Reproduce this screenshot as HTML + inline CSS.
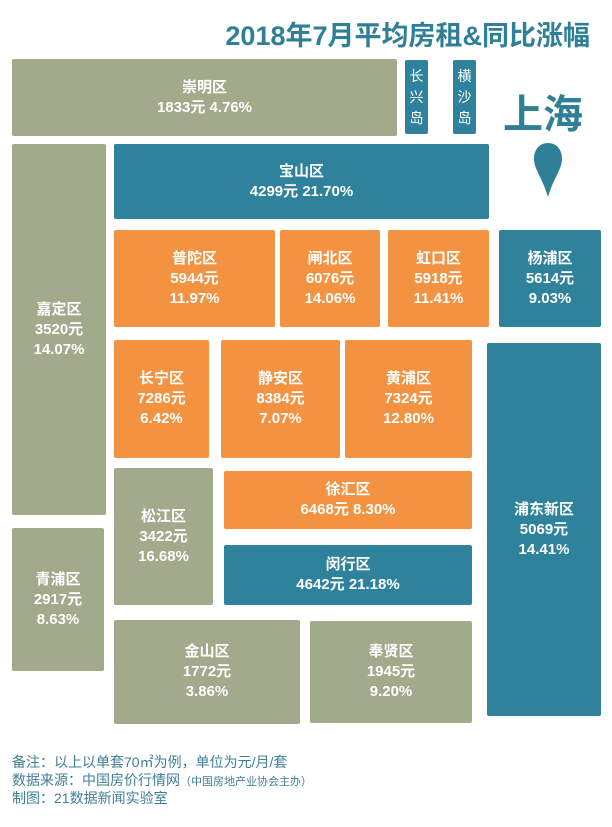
<!DOCTYPE html><html><head><meta charset="utf-8"><style>
body{margin:0;width:612px;height:827px;background:#fff;position:relative;overflow:hidden;font-family:"Liberation Sans","Noto Sans CJK SC",sans-serif}
.b{position:absolute;color:#fff;display:flex;flex-direction:column;justify-content:center;align-items:center;text-align:center;font-size:15px;line-height:20px;border-radius:2px;font-weight:bold}
.o{background:#a1aa8b}.t{background:#2f829c}.r{background:#f39240}
.v{font-size:14px;line-height:21px;font-weight:normal}
.n{position:absolute;left:12px;color:#3f7f96;font-size:14px}
</style></head><body>
<div style="position:absolute;right:22px;top:14px;font-size:27px;font-weight:bold;color:#2f7f96">2018年7月平均房租&amp;同比涨幅</div>
<div class="b o" style="left:12px;top:59px;width:385px;height:77px">崇明区<br>1833元 4.76%</div>
<div class="b t v" style="left:405px;top:60px;width:23px;height:74px">长<br>兴<br>岛</div>
<div class="b t v" style="left:453px;top:60px;width:23px;height:74px">横<br>沙<br>岛</div>
<div style="position:absolute;left:503px;top:82px;font-size:40px;font-weight:bold;color:#2f7f96">上海</div>
<svg style="position:absolute;left:534px;top:143px" width="28" height="54"><path d="M14 0C5 0 0 7 0 16C0 26 8 34 14 54C20 34 28 26 28 16C28 7 23 0 14 0Z" fill="#2f7f96"/></svg>
<div class="b o" style="left:12px;top:144px;width:94px;height:371px">嘉定区<br>3520元<br>14.07%</div>
<div class="b t" style="left:114px;top:144px;width:375px;height:75px">宝山区<br>4299元 21.70%</div>
<div class="b r" style="left:114px;top:230px;width:161px;height:97px">普陀区<br>5944元<br>11.97%</div>
<div class="b r" style="left:280px;top:230px;width:100px;height:97px">闸北区<br>6076元<br>14.06%</div>
<div class="b r" style="left:388px;top:230px;width:101px;height:97px">虹口区<br>5918元<br>11.41%</div>
<div class="b t" style="left:499px;top:230px;width:102px;height:97px">杨浦区<br>5614元<br>9.03%</div>
<div class="b r" style="left:114px;top:340px;width:95px;height:118px">长宁区<br>7286元<br>6.42%</div>
<div class="b r" style="left:221px;top:340px;width:119px;height:118px">静安区<br>8384元<br>7.07%</div>
<div class="b r" style="left:345px;top:340px;width:127px;height:118px">黄浦区<br>7324元<br>12.80%</div>
<div class="b t" style="left:487px;top:343px;width:114px;height:373px">浦东新区<br>5069元<br>14.41%</div>
<div class="b o" style="left:114px;top:468px;width:99px;height:137px">松江区<br>3422元<br>16.68%</div>
<div class="b r" style="left:224px;top:471px;width:248px;height:58px">徐汇区<br>6468元 8.30%</div>
<div class="b t" style="left:224px;top:545px;width:248px;height:60px">闵行区<br>4642元 21.18%</div>
<div class="b o" style="left:12px;top:528px;width:92px;height:143px">青浦区<br>2917元<br>8.63%</div>
<div class="b o" style="left:114px;top:620px;width:186px;height:104px">金山区<br>1772元<br>3.86%</div>
<div class="b o" style="left:310px;top:621px;width:162px;height:102px">奉贤区<br>1945元<br>9.20%</div>
<div class="n" style="top:752px">备注：以上以单套70㎡为例，单位为元/月/套</div>
<div class="n" style="top:770px">数据来源：中国房价行情网<span style="font-size:11px">（中国房地产业协会主办）</span></div>
<div class="n" style="top:788px">制图：21数据新闻实验室</div>
</body></html>
